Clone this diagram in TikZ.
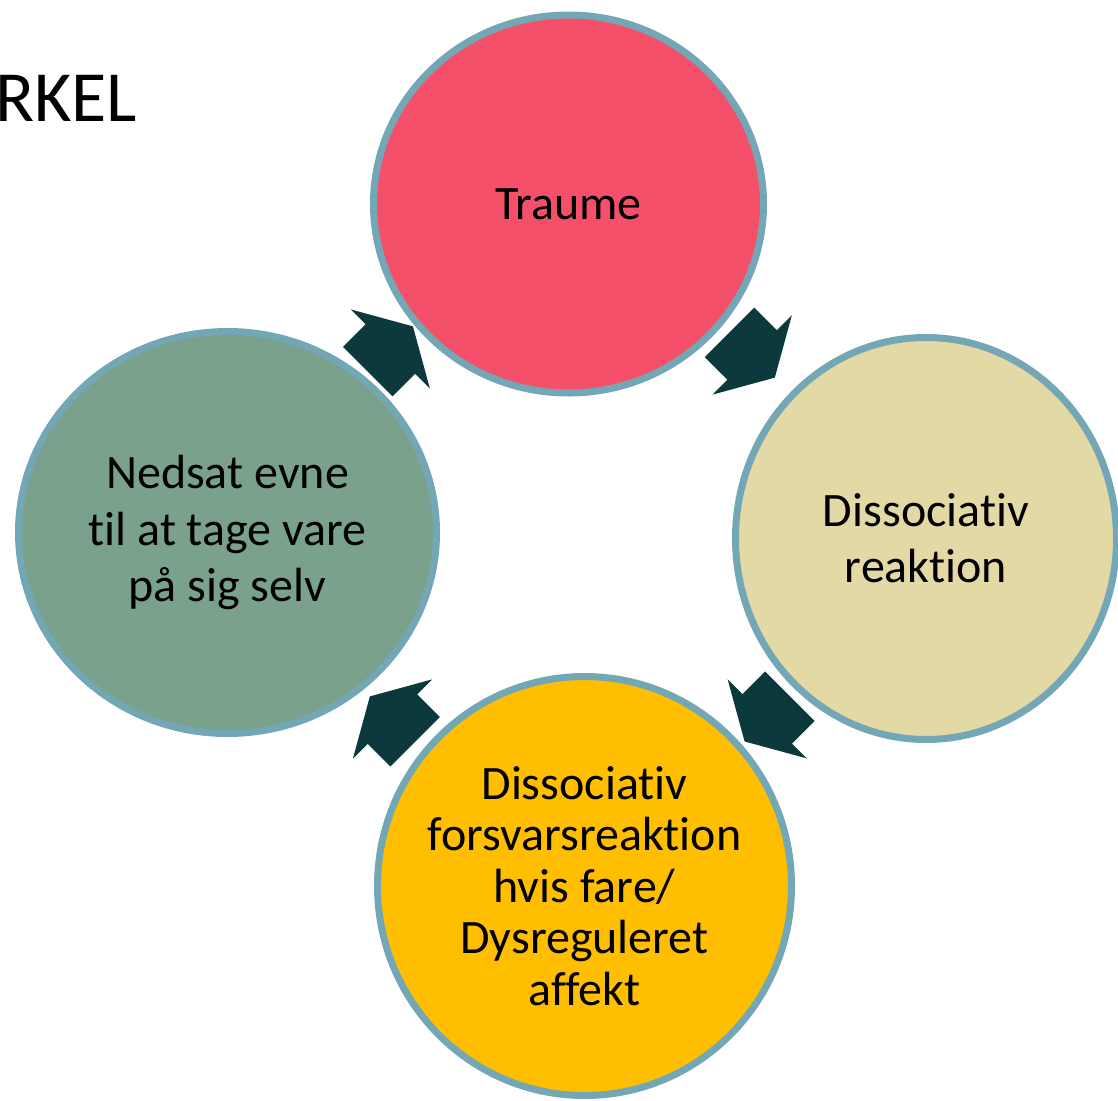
\documentclass[tikz,border=0pt]{standalone}
\usepackage{fontspec}
\setmainfont{Carlito}[Ligatures=NoCommon]
\usetikzlibrary{shapes.geometric}
\definecolor{ring}{HTML}{73A7B5}
\definecolor{darkarr}{HTML}{0C3A3C}
\definecolor{traumered}{HTML}{F5506A}
\definecolor{sage}{HTML}{7AA18B}
\definecolor{sand}{HTML}{E2D9A4}
\definecolor{gold}{HTML}{FFBF00}

\begin{document}
\begin{tikzpicture}[x=1pt,y=-1pt,
  bub/.style={ellipse,draw=ring,line width=7pt,inner sep=-30pt,align=center,
              font=\fontsize{48}{56}\selectfont},
  cyc/.pic={\fill[darkarr] (-32,-35) -- (0,-35) -- (0,-56) -- (32,0) -- (0,56)
            -- (0,35) -- (-32,35) -- cycle;}
]
\useasboundingbox (0,0) rectangle (1118,1100);

\node[anchor=base west,inner sep=0pt,font=\fontsize{72}{86}\selectfont] (titel)
      at (-5,121.7) {RKEL};

\node[bub,fill=traumered,minimum width=390,minimum height=378] (traume) at (568.5,204) {Traume};
\node[bub,fill=sand,minimum width=381,minimum height=402] (reak) at (926,538.5) {Dissociativ\\reaktion};
\node[bub,fill=gold,minimum width=414,minimum height=419,
      font=\fontsize{48}{51.5}\selectfont] (dysr) at (584.5,886)
      {Dissociativ\\forsvarsreaktion\\hvis fare/\\Dysreguleret\\affekt};
\node[bub,fill=sage,minimum width=418,minimum height=402,
      font=\fontsize{48}{56.7}\selectfont] (nedsat) at (227.5,532.5)
      {Nedsat evne\\til at tage vare\\på sig selv};

% arrows round the cycle
\pic[rotate=45]   at (390.3,349)   {cyc};
\pic[rotate=-45]  at (752.2,355)   {cyc};
\pic[rotate=-135] at (767.2,718.8) {cyc};
\pic[rotate=135]  at (392.5,719)   {cyc};
\end{tikzpicture}
\end{document}
